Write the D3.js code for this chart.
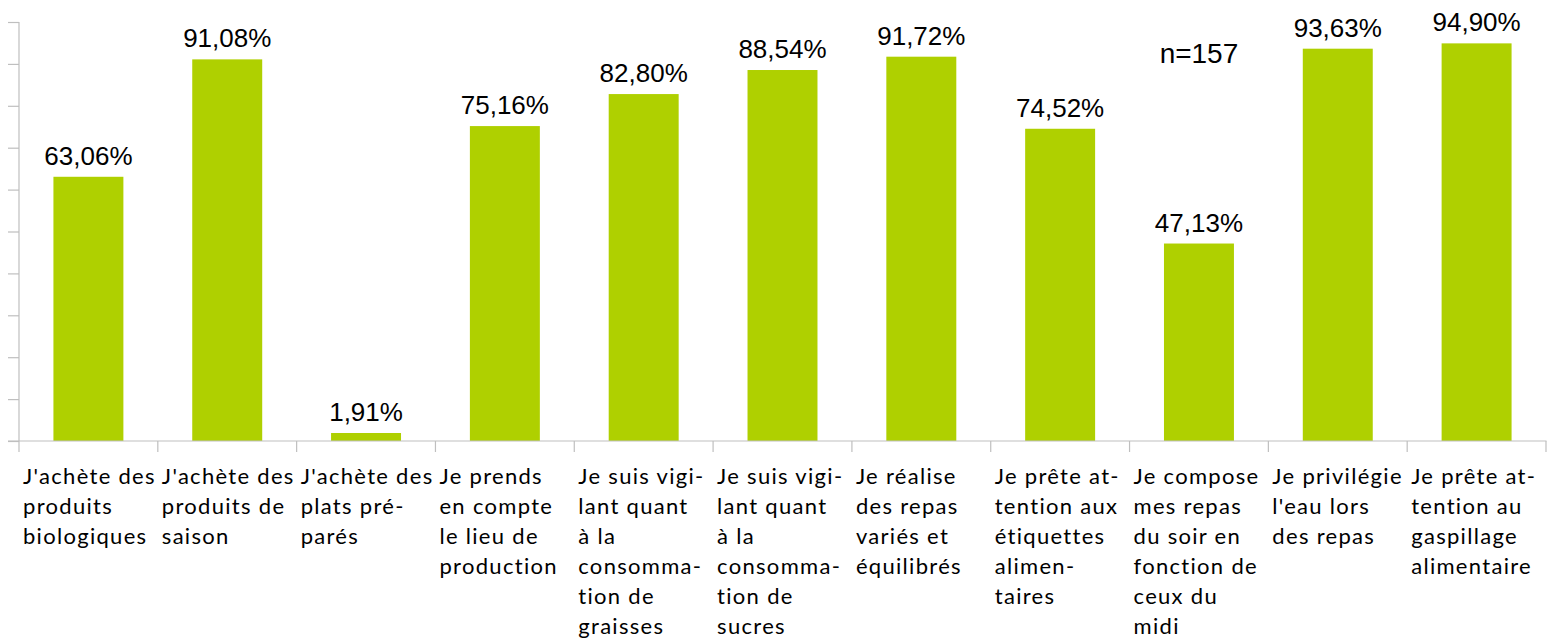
<!DOCTYPE html>
<html>
<head>
<meta charset="utf-8">
<script src="https://cdn.jsdelivr.net/npm/d3@7"></script>
<style>
  html, body { margin: 0; padding: 0; background: #ffffff; }
  svg { display: block; }
</style>
</head>
<body>
<svg id="chart" width="1547" height="639"></svg>
<script>
// Category labels, pre-wrapped line by line
const categories = [
  ["J'achète des", "produits", "biologiques"],
  ["J'achète des", "produits de", "saison"],
  ["J'achète des", "plats pré-", "parés"],
  ["Je prends", "en compte", "le lieu de", "production"],
  ["Je suis vigi-", "lant quant", "à la", "consomma-", "tion de", "graisses"],
  ["Je suis vigi-", "lant quant", "à la", "consomma-", "tion de", "sucres"],
  ["Je réalise", "des repas", "variés et", "équilibrés"],
  ["Je prête at-", "tention aux", "étiquettes", "alimen-", "taires"],
  ["Je compose", "mes repas", "du soir en", "fonction de", "ceux du", "midi"],
  ["Je privilégie", "l'eau lors", "des repas"],
  ["Je prête at-", "tention au", "gaspillage", "alimentaire"]
];

// Share of respondents (%)
const values = [63.06, 91.08, 1.91, 75.16, 82.80, 88.54, 91.72, 74.52, 47.13, 93.63, 94.90];

// Y axis tick values (%), drawn without labels
const yTicks = [0, 10, 20, 30, 40, 50, 60, 70, 80, 90, 100];

const sampleNote = "n=157";

const svg = d3.select("#chart");
const plotLeft = 19, plotRight = 1546, plotTop = 22, baseline = 441;

const x = d3.scaleBand()
  .domain(d3.range(values.length))
  .range([plotLeft, plotRight])
  .paddingInner(0.496)
  .paddingOuter(0.248);

const slot = d3.scaleBand()
  .domain(d3.range(values.length))
  .range([plotLeft, plotRight]);

const y = d3.scaleLinear().domain([0, 100]).range([baseline, plotTop]);

const axisColor = "#bfbfbf";
const barColor = "#afd000";

// Y axis with outward tick marks
const yAxis = svg.append("g")
  .attr("transform", `translate(${plotLeft},0)`)
  .call(d3.axisLeft(y).tickValues(yTicks).tickSize(11).tickFormat(""));
yAxis.select(".domain").attr("stroke", axisColor).attr("stroke-width", 1.2)
  .attr("d", `M0,${plotTop}V${baseline}`);
yAxis.selectAll(".tick line").attr("stroke", axisColor).attr("stroke-width", 1.2);

// Bars
svg.append("g").selectAll("rect")
  .data(values)
  .join("rect")
  .attr("x", (d, i) => x(i))
  .attr("width", x.bandwidth())
  .attr("y", d => y(d))
  .attr("height", d => y(0) - y(d))
  .attr("fill", barColor);

// X axis: baseline and tick marks at category boundaries
const bounds = d3.range(values.length + 1).map(i => plotLeft + i * slot.step());
svg.append("line")
  .attr("x1", 8).attr("x2", plotRight + 0.5)
  .attr("y1", baseline).attr("y2", baseline)
  .attr("stroke", axisColor).attr("stroke-width", 1.2);
svg.append("g").selectAll("line")
  .data(bounds)
  .join("line")
  .attr("x1", d => d).attr("x2", d => d)
  .attr("y1", baseline).attr("y2", baseline + 11)
  .attr("stroke", axisColor).attr("stroke-width", 1.2);

// Value labels above bars
const fmt = v => v.toFixed(2).replace(".", ",") + "%";
svg.append("g").selectAll("text")
  .data(values)
  .join("text")
  .attr("x", (d, i) => x(i) + x.bandwidth() / 2)
  .attr("y", d => y(d) - 12)
  .attr("text-anchor", "middle")
  .attr("font-family", "'Liberation Sans', Arial, sans-serif")
  .attr("font-size", 26)
  .attr("fill", "#000")
  .text(d => fmt(d));

// Category labels, left aligned in each slot
const catG = svg.append("g")
  .attr("font-family", "Lato, 'Open Sans', sans-serif")
  .attr("font-size", 22)
  .attr("letter-spacing", 1.3)
  .attr("fill", "#000");
categories.forEach((lines, i) => {
  const t = catG.append("text")
    .attr("x", slot(i) + 4)
    .attr("y", 484);
  t.selectAll("tspan")
    .data(lines)
    .join("tspan")
    .attr("x", slot(i) + 4)
    .attr("dy", (d, k) => k === 0 ? 0 : 30)
    .text(d => d);
});

// Sample size note
svg.append("text")
  .attr("x", x(8) + x.bandwidth() / 2)
  .attr("y", 63)
  .attr("text-anchor", "middle")
  .attr("font-family", "'Liberation Sans', Arial, sans-serif")
  .attr("font-size", 28)
  .attr("fill", "#000")
  .text(sampleNote);
</script>
</body>
</html>
